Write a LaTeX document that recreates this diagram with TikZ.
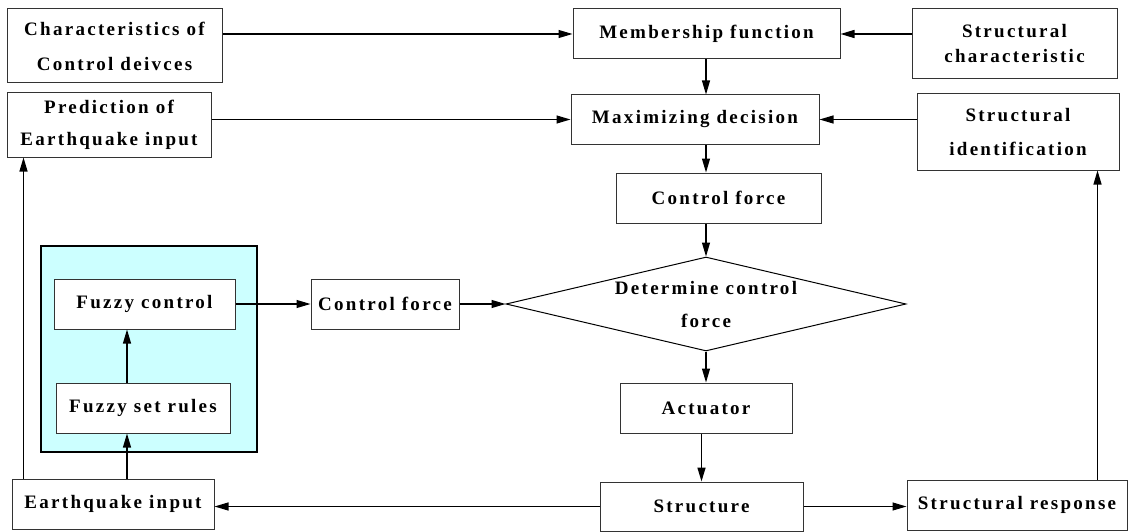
\documentclass[tikz,border=0pt]{standalone}
\usepackage{fontspec}
\newfontfamily\boxfont[LetterSpace=12]{Liberation Serif}
\usepackage{tikz}
\usetikzlibrary{arrows.meta, positioning, shapes.geometric}
\usepackage{xcolor}
\definecolor{fuzzycyan}{HTML}{CCFFFF}

\begin{document}
\begin{tikzpicture}[
    x=1pt, y=-1pt,
    block/.style={
      draw=black!80,
      line width=1pt,
      fill=white,
      inner sep=2pt,
      align=center,
      font=\boxfont\bfseries\fontsize{19}{25}\selectfont},
    link/.style={
      -{Triangle[length=14pt,width=8pt]},
      line width=1.1pt}]
  \useasboundingbox (0,0) rectangle (1129,532);

  % Top row: inputs to the membership function.
  \node [block,
    minimum width=215pt,
    minimum height=74pt] (cc) at (114.5,46) {Characteristics of\\[10pt]Control deivces};
  \node [block,
    minimum width=267pt,
    minimum height=50pt] (mem) at (706.5,34) {Membership function};
  \node [block,
    minimum width=205pt,
    minimum height=70pt] (sc) at (1014.5,44) {Structural\\characteristic};

  % Second row: the maximizing decision.
  \node [block,
    minimum width=204pt,
    minimum height=64pt] (pr) at (109,125) {Prediction of\\[7pt]Earthquake input};
  \node [block,
    minimum width=248pt,
    minimum height=49pt] (max) at (695,119.5) {Maximizing decision};
  \node [block,
    minimum width=202pt,
    minimum height=76pt] (si) at (1018,132) {Structural\\[9pt]identification};

  % Central column.
  \node [block,
    minimum width=205pt,
    minimum height=50pt] (cfu) at (718.5,198) {Control force};
  \node [diamond,
    draw=black,
    line width=1pt,
    aspect=4.25,
    inner sep=0pt,
    minimum width=400pt,
    minimum height=94pt,
    align=center,
    font=\boxfont\bfseries\fontsize{19}{25}\selectfont] (dec) at (706,304) {Determine control\\[8pt]force};
  \node [block,
    minimum width=172pt,
    minimum height=50pt] (act) at (706,408) {Actuator};
  \node [block,
    minimum width=203pt,
    minimum height=49pt] (str) at (701.5,506.5) {Structure};

  % Fuzzy controller group.
  \node [draw=black,
    line width=1.5pt,
    fill=fuzzycyan,
    minimum width=216pt,
    minimum height=206pt] (fuzzy) at (149,349) {};
  \node [block,
    minimum width=181pt,
    minimum height=50pt] (fc) at (144.5,304) {Fuzzy control};
  \node [block,
    minimum width=174pt,
    minimum height=50pt] (fsr) at (143,408) {Fuzzy set rules};
  \node [block,
    minimum width=148pt,
    minimum height=50pt] (cfl) at (385,304) {Control force};

  % Bottom row.
  \node [block,
    minimum width=202pt,
    minimum height=50pt] (eq) at (113,504) {Earthquake input};
  \node [block,
    minimum width=220pt,
    minimum height=50pt] (sr) at (1017,505) {Structural response};

  % Connectors of the upper part.
  \draw [link] (cc.east |- mem.west) -- (mem.west);
  \draw [link, line width=1.5pt] (sc.west |- mem.east) -- (mem.east);
  \draw [link] (mem.south -| dec.north) -- (max.north -| dec.north);
  \draw [link] (pr.east |- max.west) -- (max.west);
  \draw [link] (si.west |- max.east) -- (max.east);
  \draw [link] (max.south -| dec.north) -- (cfu.north -| dec.north);
  \draw [link] (cfu.south -| dec.north) -- (dec.north);

  % Connectors of the lower part.
  \draw [link] (dec.south) -- (act.north);
  \draw [link, line width=1.5pt] (act.south -| str.north) -- (str.north);
  \draw [link] (str.west) -- (str.west -| eq.east);
  \draw [link] (str.east) -- (str.east -| sr.west);

  % Feedback lines on both sides.
  \coordinate (up) at ([xshift=12pt]eq.north west);
  \draw [link] (up) -- (up |- pr.south);
  \coordinate (back) at ([xshift=-30pt]sr.north east);
  \draw [link] (back) -- (back |- si.south);

  % Fuzzy controller path.
  \coordinate (rule) at ([xshift=-16pt]fsr.south);
  \draw [link] (eq.north -| rule) -- (rule);
  \draw [link] (fsr.north -| rule) -- (fc.south -| rule);
  \draw [link] (fc.east) -- (fc.east -| cfl.west);
  \draw [link] (cfl.east) -- (dec.west);
\end{tikzpicture}
\end{document}
